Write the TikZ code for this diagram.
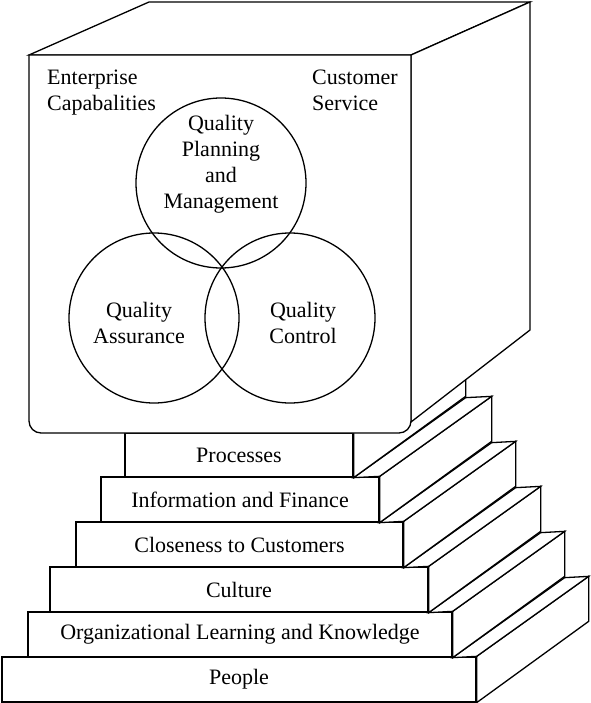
\documentclass[tikz,border=0pt]{standalone}
\usepackage{fontspec}
\setmainfont{Liberation Serif}
\usetikzlibrary{calc}

\tikzset{
  face/.style={draw, fill=white, line width=1.3pt},
  stepbox/.style={draw, fill=white, line width=1.3pt, inner sep=0pt, minimum height=45pt, font=\fontsize{22}{26}\selectfont},
  ring/.style={draw, circle, line width=1.3pt, minimum size=170pt, inner sep=0pt},
  lbl/.style={inner sep=0pt, align=center, font=\fontsize{22}{26}\selectfont},
}

\begin{document}
\begin{tikzpicture}[x=1pt, y=-1pt]
\useasboundingbox (0,0) rectangle (590,703);

\node[stepbox, minimum width=474pt] (people) at (239,679.5) {People};
\draw[face] (people.north east) -- ++(112,-80) -- ++(0,45) -- (people.south east) -- cycle;

\node[stepbox, minimum width=424pt] (org) at (240,634.5) {Organizational Learning and Knowledge};
\draw[face] (org.south east) -- (people.north east) -- ++(112,-80) -- ($(org.south east)+(112,-80)$) -- cycle;
\draw[face] (org.north east) -- ++(112,-80) -- ++(0,45) -- (org.south east) -- cycle;

\node[stepbox, minimum width=378pt] (culture) at (239,589.5) {Culture};
\draw[face] (culture.south east) -- (org.north east) -- ++(112,-80) -- ($(culture.south east)+(112,-80)$) -- cycle;
\draw[face] (culture.north east) -- ++(112,-80) -- ++(0,45) -- (culture.south east) -- cycle;

\node[stepbox, minimum width=327pt] (closeness) at (239.5,544.5) {Closeness to Customers};
\draw[face] (closeness.south east) -- (culture.north east) -- ++(112,-80) -- ($(closeness.south east)+(112,-80)$) -- cycle;
\draw[face] (closeness.north east) -- ++(112,-80) -- ++(0,45) -- (closeness.south east) -- cycle;

\node[stepbox, minimum width=278pt] (info) at (240,499.5) {Information and Finance};
\draw[face] (info.south east) -- (closeness.north east) -- ++(112,-80) -- ($(info.south east)+(112,-80)$) -- cycle;
\draw[face] (info.north east) -- ++(112,-80) -- ++(0,45) -- (info.south east) -- cycle;

\node[stepbox, minimum width=228pt, minimum height=44pt] (processes) at (239,455) {Processes};
\draw[face] (processes.south east) -- (info.north east) -- ++(112,-80) -- ($(processes.south east)+(112,-80)$) -- cycle;
\draw[face] (processes.north east) -- ++(112,-80) -- ++(0,44) -- (processes.south east) -- cycle;

\coordinate (fnw) at (29,55);
\coordinate (fne) at (411,55);
\coordinate (bnw) at (149,2);
\coordinate (bne) at (530,2);
\coordinate (bse) at (530,330);
\coordinate (fse) at (411,422);

\draw[face] (fnw) -- (bnw) -- (bne) -- (fne) -- cycle;
\draw[face] (fne) -- (bne) -- (bse) -- (fse) -- cycle;
\draw[face] (fnw) -- (29,421) arc[start angle=180, end angle=90, radius=12] -- (399,433) arc[start angle=90, end angle=0, radius=12] -- (fne) -- cycle;

\node[ring] (qpm) at (221,183) {};
\node[ring] (qa) at (154,318) {};
\node[ring] (qc) at (290,318) {};

\node[lbl, anchor=north west, align=left] (entcap) at (47,70) {Enterprise\\Capabalities};
\node[lbl, anchor=north west, align=left] (custserv) at (312,70) {Customer\\Service};
\node[lbl, anchor=north] (qpmtext) at (221,115) {Quality\\Planning\\and\\Management};
\node[lbl, anchor=north] (qatext) at (139,302) {Quality\\Assurance};
\node[lbl, anchor=north] (qctext) at (303,302) {Quality\\Control};
\end{tikzpicture}
\end{document}
